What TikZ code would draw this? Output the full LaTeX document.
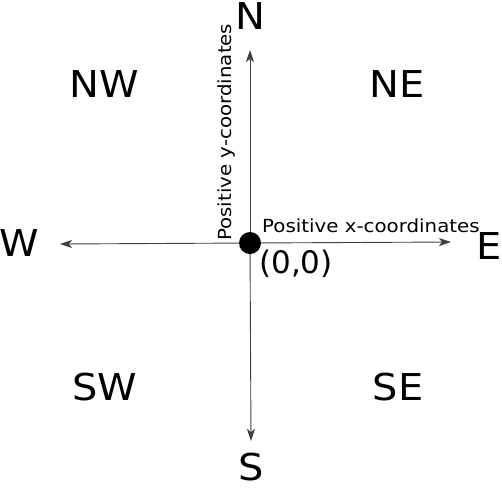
\documentclass[tikz,border=0pt]{standalone}
\usepackage{fontspec}
\setmainfont{DejaVu Sans}
\newfontfamily\bigfont[FakeStretch=1.08]{DejaVu Sans}
\newfontfamily\widefont[FakeStretch=1.1]{DejaVu Sans}
\usetikzlibrary{arrows.meta}

\begin{document}
\begin{tikzpicture}[x=1pt,y=-1pt,>={Stealth[length=12pt,width=8pt,inset=3pt]},
  axis/.style={->,line width=0.9pt,black!75},
  compass/.style={anchor=base,inner sep=0pt,font=\bigfont\fontsize{37}{37}\selectfont},
  axislabel/.style={anchor=base west,inner sep=0pt,font=\widefont\fontsize{18}{18}\selectfont}]
\useasboundingbox (0,0) rectangle (502,488);
\coordinate (o) at (250,243);
\coordinate (north) at (250,50);
\coordinate (south) at (251,441);
\coordinate (west) at (60,244);
\coordinate (east) at (451,242);
\foreach \d in {north,south,west,east} \draw[axis] (o) -- (\d);
\node[circle,fill=black,inner sep=0pt,minimum size=22pt] (dot) at (o) {};
% compass points
\node[compass] (n) at (250,29) {N};
\node[compass] (s) at (251,480) {S};
\node[compass] (w) at (19,256) {W};
\node[compass] (e) at (489,259) {E};
\node[compass] (nw) at (104,97) {NW};
\node[compass] (ne) at (397,97) {NE};
\node[compass] (sw) at (105,400) {SW};
\node[compass] (se) at (398,400) {SE};
% axis labels
\node[axislabel] (xlab) at (262,232) {Positive x-coordinates};
\node[axislabel,rotate=90] (ylab) at (231,241) {Positive y-coordinates};
\node[anchor=base west,inner sep=0pt,font=\fontsize{31}{31}\selectfont] (zero) at (259,273) {(0,0)};
\end{tikzpicture}
\end{document}
